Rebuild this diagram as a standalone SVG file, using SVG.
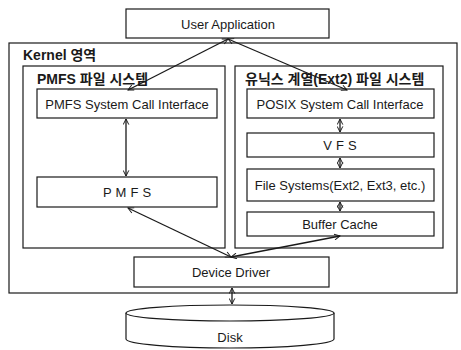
<svg xmlns="http://www.w3.org/2000/svg" width="461" height="350" viewBox="0 0 461 350">
<defs>
<style>
.b{fill:#fff;stroke:#1a1a1a;stroke-width:1.2}
.c{fill:none;stroke:#1a1a1a;stroke-width:1.3}
.t{font-family:"Liberation Sans",Arial,sans-serif;font-size:13px;fill:#1a1a1a;text-anchor:middle}
.h{font-family:"Liberation Sans","Noto Sans CJK KR",sans-serif;font-size:14px;font-weight:bold;fill:#1a1a1a}
</style>
<marker id="a" viewBox="0 0 10 10" refX="9" refY="5" markerWidth="7" markerHeight="7" orient="auto-start-reverse" markerUnits="userSpaceOnUse">
<path d="M1,1 L9,5 L1,9" fill="none" stroke="#1a1a1a" stroke-width="1.4"/>
</marker>
</defs>
<rect width="461" height="350" fill="#fff"/>
<g id="kernel">
<rect class="b" x="9" y="43" width="448" height="250"/>
<text class="h" x="23" y="60">Kernel 영역</text>
</g>
<g id="user-app">
<rect class="b" x="126" y="9" width="203" height="29"/>
<text class="t" x="228" y="28.5" font-size="14">User Application</text>
</g>
<g id="pmfs-fs">
<rect class="b" x="23" y="66" width="202" height="182"/>
<text class="h" x="37" y="84">PMFS 파일 시스템</text>
</g>
<g id="pmfs-sci">
<rect class="b" x="37" y="89" width="180" height="29"/>
<text class="t" x="127" y="108.5">PMFS System Call Interface</text>
</g>
<g id="pmfs">
<rect class="b" x="37" y="177" width="180" height="30"/>
<text class="t" x="129" y="196.5" letter-spacing="4">PMFS</text>
</g>
<g id="unix-fs">
<rect class="b" x="235" y="66" width="208" height="182"/>
<text class="h" x="245" y="84">유닉스 계열(Ext2) 파일 시스템</text>
</g>
<g id="posix-sci">
<rect class="b" x="247" y="89" width="187" height="29"/>
<text class="t" x="340" y="108.5">POSIX System Call Interface</text>
</g>
<g id="vfs">
<rect class="b" x="247" y="133" width="187" height="24"/>
<text class="t" x="342" y="149.5" letter-spacing="4">VFS</text>
</g>
<g id="file-systems">
<rect class="b" x="247" y="169" width="187" height="32"/>
<text class="t" x="340" y="189.5">File Systems(Ext2, Ext3, etc.)</text>
</g>
<g id="buffer-cache">
<rect class="b" x="247" y="212" width="187" height="24"/>
<text class="t" x="340" y="228.5">Buffer Cache</text>
</g>
<g id="device-driver">
<rect class="b" x="134" y="257" width="195" height="30"/>
<text class="t" x="231" y="276.5">Device Driver</text>
</g>
<g id="disk">
<path class="b" d="M126,313 L126,339 A104,9 0 0 0 334,339 L334,313"/>
<ellipse class="b" cx="230" cy="313" rx="104" ry="8"/>
<text class="t" x="230" y="342">Disk</text>
</g>
<g id="connectors">
<line class="c" x1="228" y1="39" x2="128" y2="90" marker-start="url(#a)" marker-end="url(#a)"/>
<line class="c" x1="228" y1="39" x2="347" y2="90" marker-start="url(#a)" marker-end="url(#a)"/>
<line class="c" x1="126" y1="119" x2="126" y2="176" marker-start="url(#a)" marker-end="url(#a)"/>
<line class="c" x1="340" y1="119" x2="340" y2="132" marker-start="url(#a)" marker-end="url(#a)"/>
<line class="c" x1="340" y1="158" x2="340" y2="168" marker-start="url(#a)" marker-end="url(#a)"/>
<line class="c" x1="340" y1="202" x2="340" y2="211" marker-start="url(#a)" marker-end="url(#a)"/>
<line class="c" x1="231" y1="257" x2="128" y2="208" marker-start="url(#a)" marker-end="url(#a)"/>
<line class="c" x1="231" y1="257" x2="340" y2="236" marker-start="url(#a)" marker-end="url(#a)"/>
<line class="c" x1="232" y1="288" x2="232" y2="304" marker-start="url(#a)" marker-end="url(#a)"/>
</g>
</svg>
